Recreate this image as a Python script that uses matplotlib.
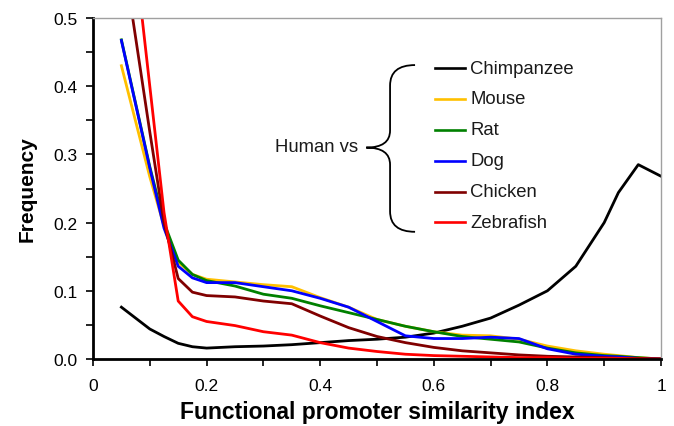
import matplotlib
matplotlib.use("Agg")
import matplotlib.pyplot as plt
from matplotlib.path import Path
from matplotlib.patches import PathPatch
from matplotlib.ticker import MultipleLocator, FixedLocator

plt.rcParams["font.family"] = ["Liberation Sans", "DejaVu Sans"]

# --- data ------------------------------------------------------------------
similarity = [0.05, 0.10, 0.125, 0.15, 0.175, 0.20, 0.25, 0.30, 0.35, 0.40,
              0.45, 0.50, 0.55, 0.60, 0.65, 0.70, 0.75, 0.80, 0.85, 0.90,
              0.925, 0.96, 1.00]

chimpanzee = [0.076, 0.044, 0.033, 0.023, 0.018, 0.016, 0.018, 0.019, 0.021, 0.024,
              0.027, 0.029, 0.032, 0.038, 0.048, 0.060, 0.079, 0.100, 0.136, 0.200,
              0.244, 0.285, 0.268]
mouse = [0.430, 0.267, 0.195, 0.142, 0.124, 0.117, 0.113, 0.109, 0.106, 0.090,
         0.076, 0.058, 0.048, 0.040, 0.035, 0.034, 0.029, 0.019, 0.012, 0.007,
         0.005, 0.002, 0.000]
rat = [0.468, 0.282, 0.200, 0.145, 0.124, 0.115, 0.107, 0.095, 0.089, 0.078,
       0.068, 0.058, 0.048, 0.040, 0.033, 0.029, 0.025, 0.016, 0.009, 0.005,
       0.004, 0.002, 0.000]
dog = [0.467, 0.280, 0.192, 0.136, 0.119, 0.112, 0.112, 0.106, 0.100, 0.089,
       0.076, 0.055, 0.034, 0.030, 0.030, 0.032, 0.030, 0.015, 0.007, 0.004,
       0.003, 0.001, 0.000]
chicken = [0.610, 0.333, 0.200, 0.118, 0.098, 0.093, 0.091, 0.085, 0.081, 0.063,
           0.046, 0.033, 0.024, 0.017, 0.012, 0.009, 0.006, 0.004, 0.003, 0.002,
           0.001, 0.001, 0.000]
zebrafish = [0.770, 0.400, 0.215, 0.085, 0.062, 0.055, 0.049, 0.040, 0.035, 0.024,
             0.016, 0.011, 0.007, 0.005, 0.004, 0.003, 0.002, 0.002, 0.001, 0.001,
             0.001, 0.000, 0.000]

series_names = ["Chimpanzee", "Mouse", "Rat", "Dog", "Chicken", "Zebrafish"]
series_values = [chimpanzee, mouse, rat, dog, chicken, zebrafish]
series_colors = ["#000000", "#FFC000", "#008000", "#0000FF", "#800000", "#FF0000"]

x_ticks = [0, 0.2, 0.4, 0.6, 0.8, 1.0]
x_tick_labels = ["0", "0.2", "0.4", "0.6", "0.8", "1"]
y_ticks = [0.0, 0.1, 0.2, 0.3, 0.4, 0.5]
y_tick_labels = ["0.0", "0.1", "0.2", "0.3", "0.4", "0.5"]

# --- figure -----------------------------------------------------------------
fig = plt.figure(figsize=(6.74, 4.27), dpi=100)
ax = fig.add_axes([93 / 674, 67 / 427, 568 / 674, 341 / 427])

for name, vals, col in zip(series_names, series_values, series_colors):
    ax.plot(similarity, vals, color=col, lw=2.0, solid_joinstyle="round")

ax.set_xlim(0, 1)
ax.set_ylim(0, 0.5)
ax.xaxis.set_major_locator(FixedLocator(x_ticks))
ax.set_xticklabels(x_tick_labels)
ax.xaxis.set_minor_locator(MultipleLocator(0.1))
ax.yaxis.set_major_locator(FixedLocator(y_ticks))
ax.set_yticklabels(y_tick_labels)
ax.yaxis.set_minor_locator(MultipleLocator(0.05))
ax.tick_params(which="both", direction="out", length=5, width=1.2, color="black",
               labelsize=12.5)
ax.tick_params(axis="x", which="both", pad=9)
ax.tick_params(axis="y", which="both", pad=6)

for side in ("left", "bottom"):
    ax.spines[side].set_color("black")
    ax.spines[side].set_linewidth(2)
for side in ("top", "right"):
    ax.spines[side].set_color("#A0A0A0")
    ax.spines[side].set_linewidth(1)

ax.set_xlabel("Functional promoter similarity index", fontsize=16.5,
              fontweight="bold", labelpad=5)
ax.set_ylabel("Frequency", fontsize=15, fontweight="bold", labelpad=12)

# --- hand-drawn legend with brace ---------------------------------------------
row_y = [0.853, 0.763, 0.673, 0.582, 0.490, 0.401]
for name, col, yy in zip(series_names, series_colors, row_y):
    ax.plot([0.602, 0.655], [yy, yy], color=col, lw=1.9,
            transform=ax.transAxes, clip_on=False)
    ax.text(0.664, yy, name, transform=ax.transAxes, fontsize=13.3,
            va="center", ha="left", color="#1a1a1a")

ax.text(0.466, 0.622, "Human vs", transform=ax.transAxes, fontsize=13.3,
        va="center", ha="right", color="#1a1a1a")

bx, tip_x, end_x = 0.523, 0.481, 0.567
top_y, tip_y, bot_y = 0.862, 0.620, 0.373
verts = [(end_x, top_y), (bx, top_y), (bx, top_y - 0.06),
         (bx, tip_y + 0.05),
         (bx, tip_y), (tip_x, tip_y),
         (bx, tip_y), (bx, tip_y - 0.05),
         (bx, bot_y + 0.06),
         (bx, bot_y), (end_x, bot_y)]
codes = [Path.MOVETO, Path.CURVE3, Path.CURVE3,
         Path.LINETO,
         Path.CURVE3, Path.CURVE3,
         Path.CURVE3, Path.CURVE3,
         Path.LINETO,
         Path.CURVE3, Path.CURVE3]
ax.add_patch(PathPatch(Path(verts, codes), facecolor="none", edgecolor="black",
                       lw=1.3, transform=ax.transAxes, clip_on=False))

fig.savefig("out.png", dpi=100)
